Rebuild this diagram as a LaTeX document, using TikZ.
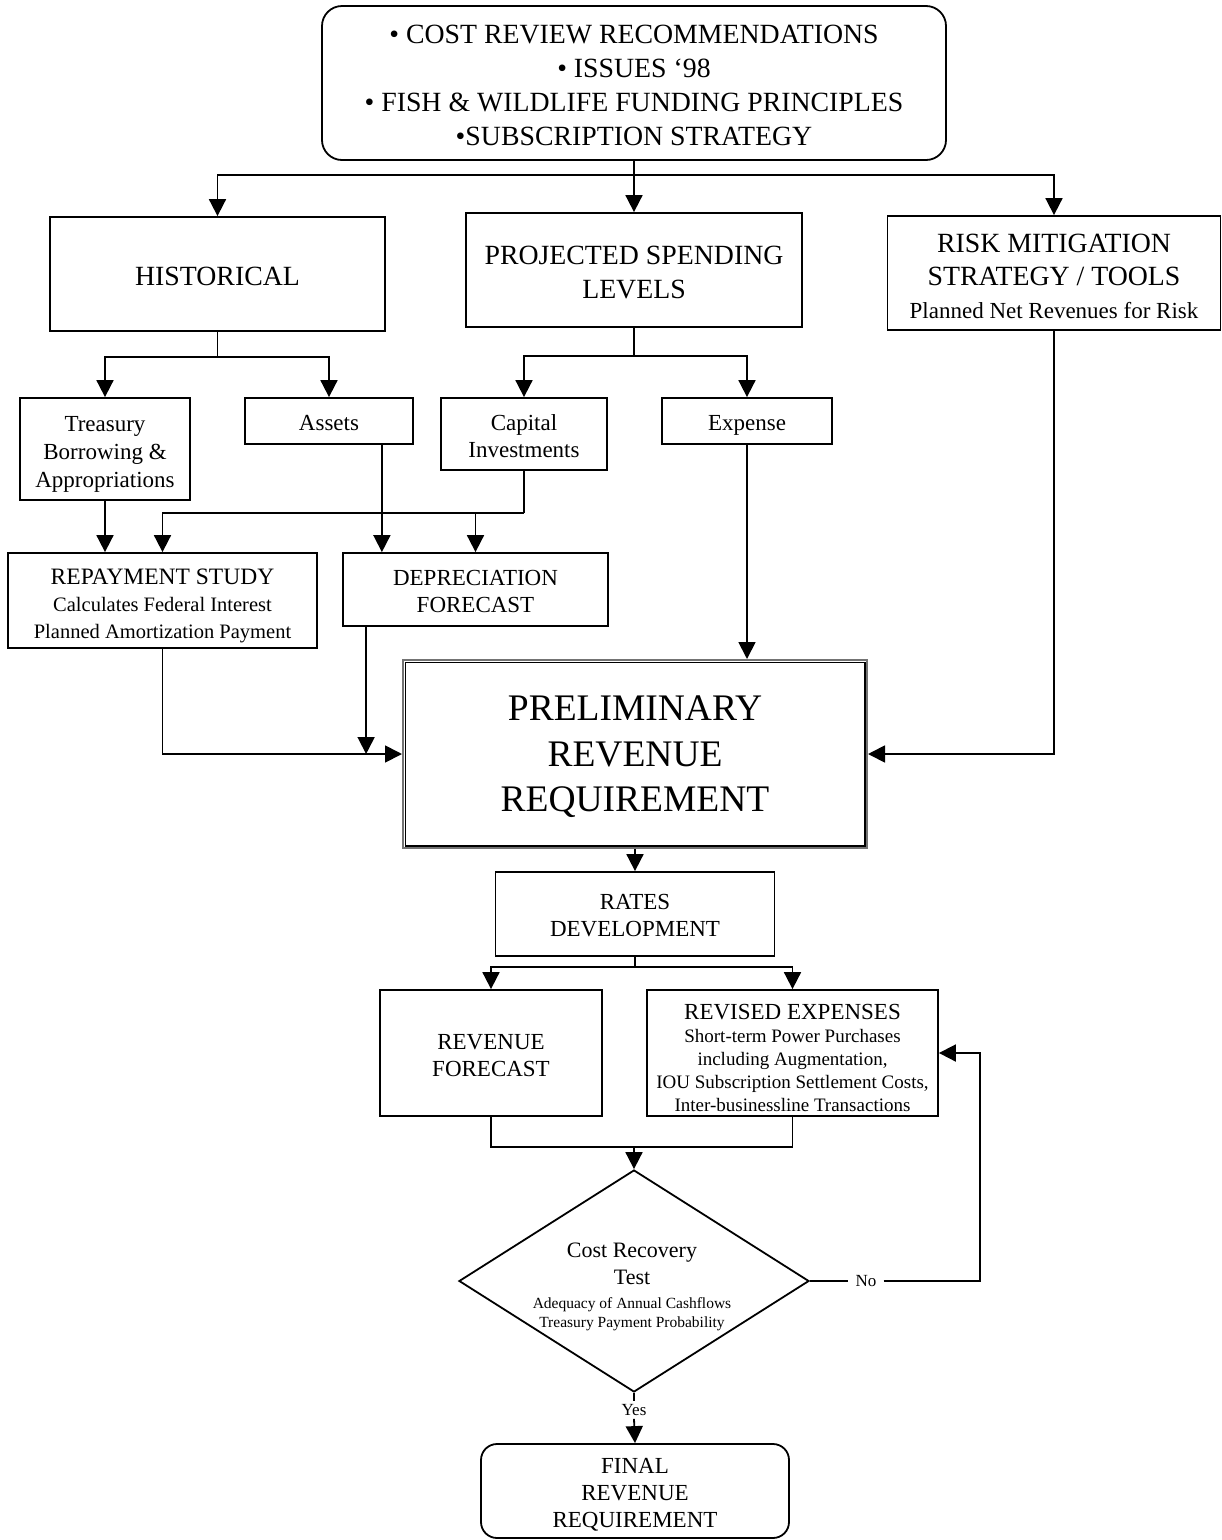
\documentclass[tikz,border=0pt]{standalone}
\usepackage{fontspec}
\setmainfont{Liberation Serif}
\usetikzlibrary{arrows.meta,shapes.geometric,calc}

\tikzset{
  box/.style={draw, line width=1.8pt, inner sep=0pt},
  txt/.style={align=center, inner sep=0pt},
  ln/.style={line width=1.8pt},
  arr/.style={line width=1.8pt, -{Triangle[length=17pt,width=17pt]}},
  fbig/.style={font=\fontsize{27.8}{34}\selectfont},
  fmid/.style={font=\fontsize{23}{27}\selectfont},
}
\newcommand{\fsub}{\fontsize{20.5}{27}\selectfont}
\newcommand{\fsmall}{\fontsize{19}{23}\selectfont}
\newcommand{\ftiny}{\fontsize{15.5}{19}\selectfont}

\begin{document}
\begin{tikzpicture}[x=1pt,y=-1pt]
\useasboundingbox (0,0) rectangle (1222,1540);

% ---- top level inputs
\node[box, rounded corners=20pt, minimum width=624pt, minimum height=154pt] (top) at (634,83) {};
\node[txt, fbig] (top-t) at (634,85)
  {• COST REVIEW RECOMMENDATIONS\\• ISSUES ‘98\\• FISH \& WILDLIFE FUNDING PRINCIPLES\\•SUBSCRIPTION STRATEGY};

% ---- second row
\node[box, minimum width=335pt, minimum height=114pt] (hist) at (217.5,274) {};
\node[txt, fbig] (hist-t) at (217.5,276) {HISTORICAL};
\node[box, minimum width=336pt, minimum height=114pt] (proj) at (634,270) {};
\node[txt, fbig] (proj-t) at (634,273) {PROJECTED SPENDING\\LEVELS};
\node[box, minimum width=333pt, minimum height=114pt] (risk) at (1054,273) {};
\node[txt, font=\fontsize{27.8}{33}\selectfont] (risk-t) at (1054,276)
  {RISK MITIGATION\\STRATEGY / TOOLS\\{\fontsize{23}{32}\selectfont Planned Net Revenues for Risk}};

% ---- third row
\node[box, minimum width=170pt, minimum height=102pt] (treas) at (105,449) {};
\node[txt, font=\fontsize{23}{28}\selectfont] (treas-t) at (105,454) {Treasury\\Borrowing \&\\Appropriations};
\node[box, minimum width=168pt, minimum height=46pt] (assets) at (329,421) {};
\node[txt, fmid] (assets-t) at (329,423) {Assets};
\node[box, minimum width=166pt, minimum height=72pt] (capital) at (524,434) {};
\node[txt, fmid] (capital-t) at (524,436.5) {Capital\\Investments};
\node[box, minimum width=170pt, minimum height=46pt] (expense) at (747,421) {};
\node[txt, fmid] (expense-t) at (747,425) {Expense};

% ---- studies
\node[box, minimum width=309pt, minimum height=95pt] (repay) at (162.5,600.5) {};
\node[txt, font=\fontsize{23.5}{27}\selectfont] (repay-t) at (162.5,606)
  {REPAYMENT STUDY\\{\fsub Calculates Federal Interest}\\{\fsub Planned Amortization Payment}};
\node[box, minimum width=265pt, minimum height=73pt] (deprec) at (475.5,589.5) {};
\node[txt, fmid] (deprec-t) at (475.5,591.5) {DEPRECIATION\\FORECAST};

% ---- preliminary revenue requirement (double frame)
\node[draw=black!55, line width=2pt, inner sep=0pt, minimum width=464pt, minimum height=188pt] (prelim) at (635,754) {};
\draw[line width=1.8pt] ($(prelim.north west)+(3.5,3.5)$) rectangle ($(prelim.south east)+(-3,-3)$);
\node[txt, font=\fontsize{37.5}{45.5}\selectfont] (prelim-t) at (635,757) {PRELIMINARY\\REVENUE\\REQUIREMENT};

% ---- rates
\node[box, minimum width=279pt, minimum height=84pt] (rates) at (635,914) {};
\node[txt, fmid] (rates-t) at (635,916) {RATES\\DEVELOPMENT};
\node[box, minimum width=222pt, minimum height=126pt] (revfc) at (491,1053) {};
\node[txt, fmid] (revfc-t) at (491,1055.5) {REVENUE\\FORECAST};
\node[box, minimum width=291pt, minimum height=126pt] (revexp) at (792.5,1053) {};
\node[txt, font=\fontsize{23}{23}\selectfont] (revexp-t) at (792.5,1057.5)
  {REVISED EXPENSES\\{\fsmall Short-term Power Purchases}\\{\fsmall including Augmentation,}\\{\fsmall IOU Subscription Settlement Costs,}\\{\fsmall Inter-businessline Transactions}};

% ---- decision
\node[draw, diamond, line width=1.8pt, inner sep=0pt, minimum width=350pt, minimum height=222pt] (test) at (634,1281) {};
\node[txt, font=\fontsize{22}{27}\selectfont] (test-t) at (632,1287)
  {Cost Recovery\\Test\\[-3pt]{\ftiny Adequacy of Annual Cashflows}\\[-8pt]{\ftiny Treasury Payment Probability}};
\node[inner sep=7pt, font=\fontsize{17}{20}\selectfont] (no) at (866,1281) {No};
\node[inner sep=3pt, font=\fontsize{17}{20}\selectfont] (yes) at (634,1410) {Yes};
\coordinate (nc) at (980,1281);

% ---- final
\node[box, rounded corners=16pt, minimum width=308pt, minimum height=94pt] (final) at (635,1491) {};
\node[txt, fmid] (final-t) at (635,1495) {FINAL\\REVENUE\\REQUIREMENT};

% ---- connectors
\coordinate (b1) at (634,175);
\draw[ln] (top.south) -- (b1);
\draw[arr] (b1) -| (hist.north);
\draw[arr] (b1) -- (proj.north);
\draw[arr] (b1) -| (risk.north);

\coordinate (b2) at ($(hist.south)+(0,25)$);
\draw[ln] (hist.south) -- (b2);
\draw[arr] (b2) -| (treas.north);
\draw[arr] (b2) -| (assets.north);

\coordinate (b3) at ($(proj.south)+(0,28)$);
\draw[ln] (proj.south) -- (b3);
\draw[arr] (b3) -| (capital.north);
\draw[arr] (b3) -| (expense.north);

\draw[arr] (treas.south) -- (treas.south |- repay.north);

\coordinate (b5) at ($(capital.south)+(0,42)$);
\draw[ln] (capital.south) -- (b5);
\draw[arr] (b5) -| (repay.north);
\draw[arr] (b5 -| deprec.north) -- (deprec.north);

\coordinate (a1) at ($(assets.south east)+(-32,0)$);
\draw[arr] (a1) -- (a1 |- deprec.north);

\draw[arr] (repay.south) |- (prelim.west);
\coordinate (d1) at ($(deprec.south west)+(24,0)$);
\draw[arr] (d1) -- (d1 |- prelim.west);
\draw[arr] (expense.south) -- (expense.south |- prelim.north);
\draw[arr] (risk.south) |- (prelim.east);

\draw[arr] (prelim.south) -- (rates.north);
\coordinate (b6) at ($(rates.south)+(0,10)$);
\draw[ln] (rates.south) -- (b6);
\draw[arr] (b6) -| (revfc.north);
\draw[arr] (b6) -| (revexp.north);

\coordinate (b7) at ($(revfc.south)+(0,30)$);
\draw[ln] (revfc.south) -- (b7) -| (revexp.south);
\draw[arr] (b7 -| test.north) -- (test.north);

\draw[ln] (test.east) -- (no.west);
\draw[arr] (no.east) -- (nc) |- (revexp.east);
\draw[ln] (test.south) -- (yes.north);
\draw[arr] (yes.south) -- (final.north);
\end{tikzpicture}
\end{document}
